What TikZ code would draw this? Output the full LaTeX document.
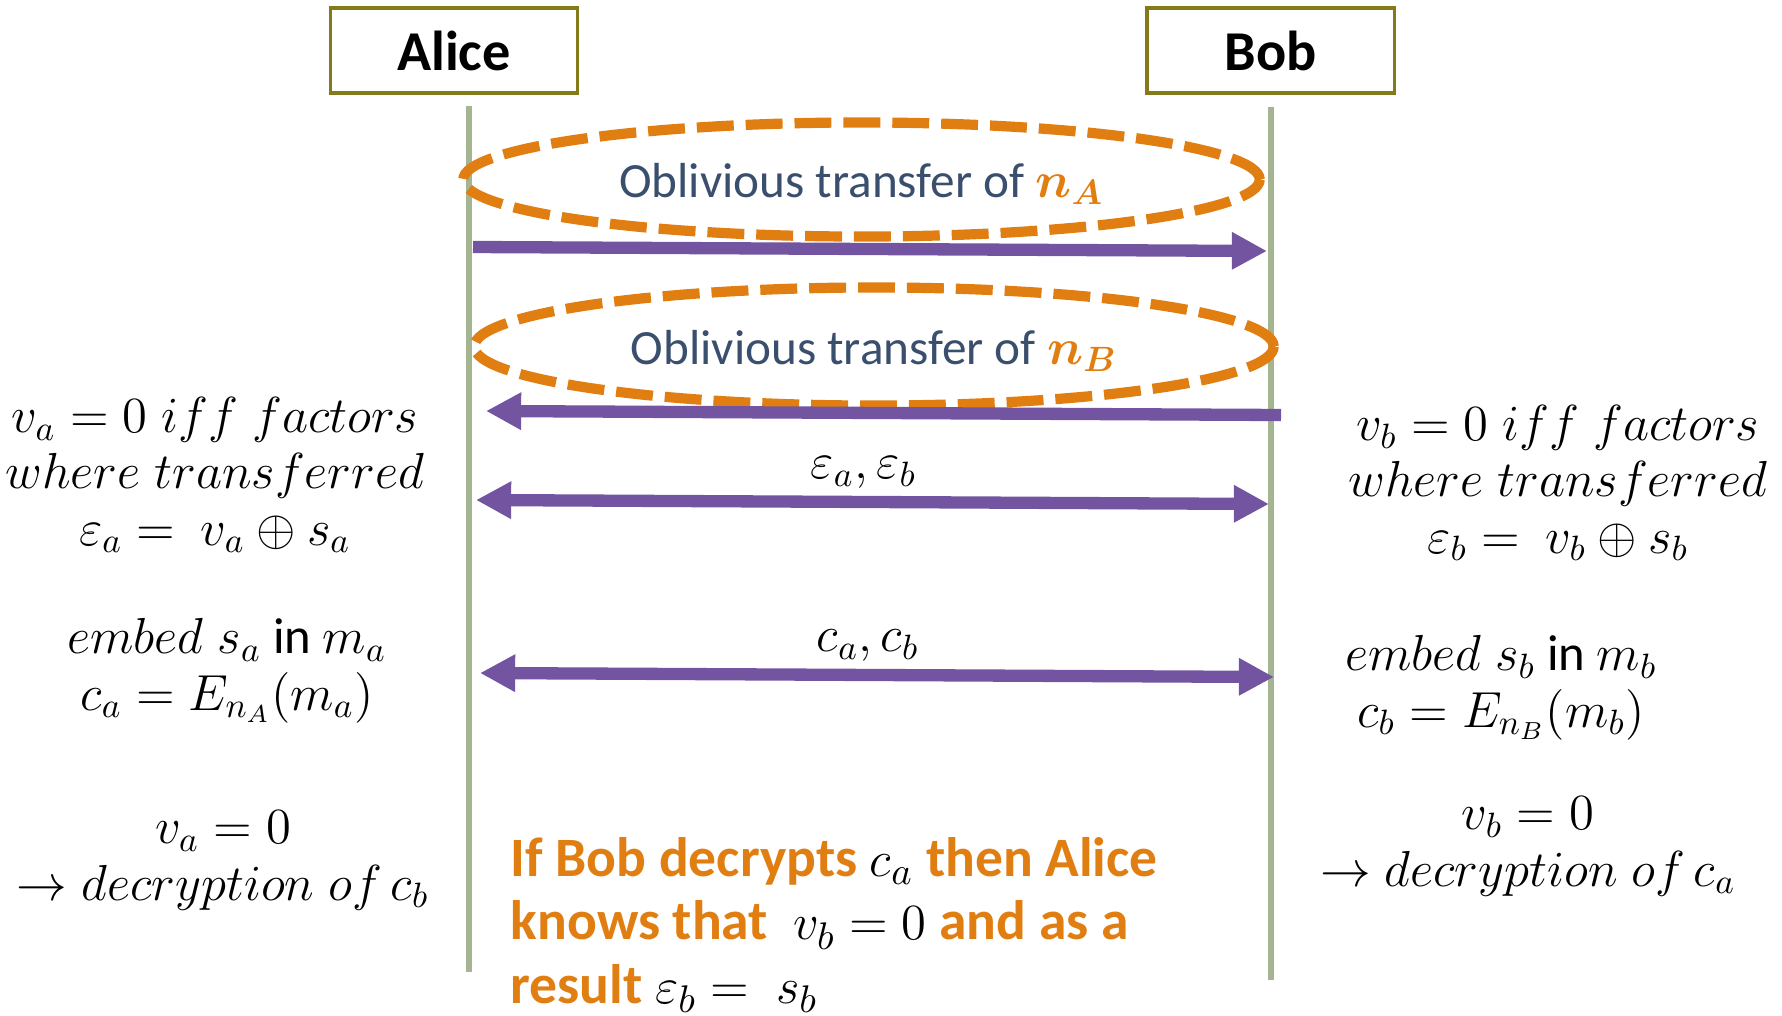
\documentclass[tikz,border=0pt]{standalone}
\usepackage{amsmath}
\usepackage[no-math]{fontspec}
\setmainfont{Carlito}
\usepackage{tikz}
\usetikzlibrary{positioning,shapes.geometric,arrows.meta}

\definecolor{otorange}{HTML}{E17E12}
\definecolor{otblue}{HTML}{3A4F6E}
\definecolor{msgpurple}{HTML}{7254A1}
\definecolor{lifegreen}{HTML}{A5B592}
\definecolor{boxolive}{HTML}{857A1A}

\begin{document}
\begin{tikzpicture}[x=0.01cm,y=-0.01cm,
  >={Triangle[length=10pt,width=10pt]},
  party/.style={draw=boxolive,line width=0.9pt,minimum width=2.47cm,minimum height=0.85cm,
    font=\fontsize{16}{19}\selectfont\bfseries},
  lifeline/.style={draw=lifegreen,line width=1.7pt},
  otbubble/.style={ellipse,draw=otorange,line width=2.9pt,dash pattern=on 10.5pt off 3.4pt,
    text=otblue,inner sep=0pt,text height=10pt,text depth=0pt,font=\fontsize{14}{17}\selectfont},
  msg/.style={draw=msgpurple,line width=3.5pt,->},
  dmsg/.style={msg,<->},
  msglabel/.style={above=2pt,xshift=-0.09cm,inner sep=0pt,font=\fontsize{14.4}{16}\selectfont},
  note/.style={align=center,anchor=base,inner sep=0pt,font=\fontsize{14.4}{16}\selectfont},
  remark/.style={align=left,anchor=base west,inner sep=0pt,text=otorange,
    font=\fontsize{15.8}{18}\selectfont\bfseries}]

\useasboundingbox (0,0) rectangle (1782,1015);

% Parties and lifelines
\node[party] (alice) at (454,50.5) {Alice};
\node[party] (bob) at (1270.5,50.5) {Bob};
\coordinate (atop) at (469,106);
\coordinate (abot) at (469,972);
\coordinate (btop) at (1271,107);
\coordinate (bbot) at (1271,980);
\draw[lifeline] (atop) -- (abot);
\draw[lifeline] (btop) -- (bbot);

% Oblivious transfers
\node[otbubble,minimum width=7.96cm,minimum height=1.14cm] (otA) at (861.5,179.5)
  {Oblivious transfer of $\boldsymbol{\color{otorange}n_A}$};
\coordinate (a1) at (473,247);
\coordinate (b1) at (1267,251);
\draw[msg] (a1) -- (b1);

\node[otbubble,minimum width=7.99cm,minimum height=1.18cm] (otB) at (874,346.5)
  {Oblivious transfer of $\boldsymbol{\color{otorange}n_B}$};
\coordinate (b2) at (1281,415);
\coordinate (a2) at (486,411);
\draw[msg] (b2) -- (a2);

% Exchanges
\coordinate (a3) at (476,500);
\coordinate (b3) at (1269,504);
\draw[dmsg] (a3) -- node[msglabel] (eps) {$\varepsilon_a, \varepsilon_b$} (b3);
\coordinate (a4) at (480,673);
\coordinate (b4) at (1274,677);
\draw[dmsg] (a4) -- node[msglabel] (cc) {$c_a, c_b$} (b4);

% Alice side (anchored at last line)
\node[note] (la) at (215,545) {$v_a = 0\; iff\; factors$\\ $where\; transferred$\\
  $\varepsilon_a =\ v_a \oplus s_a$};
\node[note] (lb) at (227,710) {$embed\; s_a$ \textrm{in} $m_a$\\ $c_a = E_{n_A}(m_a)$};
\node[note] (lc) at (223,900) {$v_a = 0$\\ $\rightarrow decryption\; of\, c_b$};

% Bob side
\node[note] (ra) at (1558,553) {$v_b = 0\; iff\; factors$\\ $where\; transferred$\\
  $\varepsilon_b =\ v_b \oplus s_b$};
\node[note] (rb) at (1501,727) {$embed\; s_b$ \textrm{in} $m_b$\\ $c_b = E_{n_B}(m_b)$};
\node[note] (rc) at (1528,886) {$v_b = 0$\\ $\rightarrow decryption\; of\, c_a$};

% Conclusion
\node[remark] (concl) at (510,1003) {If Bob decrypts {\color{black}$c_a$} then Alice\\
  knows that \ {\color{black}$v_b = 0$} and as a\\
  result {\color{black}$\varepsilon_b =\ s_b$}};

\end{tikzpicture}
\end{document}
